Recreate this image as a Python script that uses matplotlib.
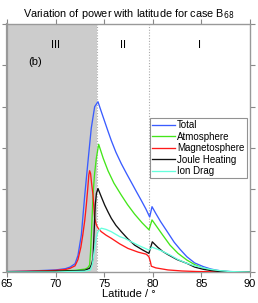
import matplotlib
matplotlib.use("Agg")
import matplotlib.pyplot as plt

plt.rcParams['font.family'] = ['Liberation Sans', 'DejaVu Sans']

# ---- data ----
total_lat = [65, 67, 69, 70, 71, 71.5, 72, 72.3, 72.65, 73.0, 73.33, 73.67, 74.02, 74.36,
             74.7, 75.05, 75.4, 75.73, 76.2, 76.76, 77.3, 77.79, 78.3, 78.82, 79.3, 79.68,
             79.92, 80.3, 80.8, 81.56, 82.2, 82.8, 83.5, 84.3, 85.2, 86, 86.9, 88, 89, 90]
total_val = [0.01, 0.02, 0.04, 0.05, 0.08, 0.12, 0.2, 0.4, 0.9, 1.86, 2.67, 3.48, 4.0, 4.12,
             3.88, 3.64, 3.40, 3.18, 2.90, 2.62, 2.38, 2.17, 1.95, 1.73, 1.52, 1.33,
             1.58, 1.42, 1.22, 0.95, 0.72, 0.55, 0.37, 0.22, 0.13, 0.07, 0.03, 0.01, 0.003, 0.0]

atmos_lat = [65, 70, 72, 73, 73.3, 73.5, 73.6, 73.68, 73.85, 74.0, 74.19, 74.43, 74.9, 75.39,
             76.0, 76.76, 77.4, 78.13, 78.9, 79.61, 79.92, 80.4, 81.0, 81.77, 82.6, 83.5,
             84.3, 85.2, 86, 87, 88, 90]
atmos_val = [0.0, 0.02, 0.04, 0.07, 0.1, 0.17, 0.5, 0.9, 1.86, 2.35, 2.75, 3.09, 2.75, 2.45,
             2.15, 1.86, 1.63, 1.40, 1.19, 1.02, 1.26, 1.1, 0.9, 0.65, 0.45, 0.29,
             0.18, 0.09, 0.05, 0.02, 0.006, 0.0]

magneto_lat = [65, 67, 69, 70, 71, 71.5, 72, 72.3, 72.6, 72.8, 73.0, 73.16, 73.3, 73.42, 73.5,
               73.6, 73.7, 73.85, 74.02, 74.19, 74.4, 74.7, 75.2, 75.73, 76.6, 77.45, 78.5,
               79.33, 79.6, 79.75, 79.85, 80.3, 81.56, 83, 84.5, 86, 88, 90]
magneto_val = [0.01, 0.02, 0.03, 0.04, 0.06, 0.09, 0.15, 0.3, 0.6, 0.9, 1.25, 1.62, 2.0, 2.35, 2.45,
               2.38, 2.15, 1.86, 1.3, 1.14, 1.05, 0.975, 0.89, 0.815, 0.68, 0.57, 0.48,
               0.43, 0.37, 0.25, 0.14, 0.1, 0.05, 0.025, 0.012, 0.005, 0.001, 0.0]

joule_lat = [65, 70, 72, 73, 73.5, 73.7, 73.85, 73.95, 74.08, 74.2, 74.36, 74.7, 75.05, 75.4,
             75.73, 76.2, 76.76, 77.4, 78.13, 78.9, 79.6, 79.95, 80.5, 81.0, 81.56, 82.5,
             83.5, 84.3, 85.2, 86, 87, 88, 90]
joule_val = [0.0, 0.02, 0.03, 0.04, 0.09, 0.18, 0.33, 0.9, 1.62, 1.9, 2.02, 1.82, 1.62, 1.45,
             1.30, 1.13, 0.975, 0.81, 0.65, 0.54, 0.45, 0.73, 0.6, 0.5, 0.42, 0.3,
             0.21, 0.12, 0.065, 0.035, 0.01, 0.003, 0.0]

drag_lat = [65, 70, 73, 73.6, 73.8, 74.0, 74.2, 74.36, 74.7, 75.2, 75.73, 76.6, 77.1, 78.47,
            79.6, 79.92, 80.5, 81.0, 81.77, 82.6, 83.5, 84.3, 85.2, 86, 87, 88, 90]
drag_val = [0.0, 0.0, 0.02, 0.05, 0.2, 0.55, 0.85, 0.975, 1.06, 1.03, 0.975, 0.855, 0.815, 0.65,
            0.53, 0.6, 0.55, 0.5, 0.41, 0.3, 0.21, 0.15, 0.1, 0.06, 0.03, 0.01, 0.0]

region_bounds = [65, 74.25, 79.65, 90]
region_labels = ["III", "II", "I"]
xticks = [65, 70, 75, 80, 85, 90]
yticks = [0, 1, 2, 3, 4, 5, 6]

# ---- figure ----
fig = plt.figure(figsize=(2.58, 3.03), dpi=100)
ax = fig.add_axes([7/258, 31/303, 243/258, 248/303])

ax.axvspan(region_bounds[0], region_bounds[1], color='#cccccc', lw=0, zorder=0)
for b in region_bounds[1:3]:
    ax.axvline(b, color='#aaaaaa', lw=0.8, ls=(0, (1, 1.5)), zorder=1)

lw = 0.95
ax.plot(total_lat, total_val, color='#3a5cff', lw=lw, label='Total', zorder=3)
ax.plot(atmos_lat, atmos_val, color='#44e61a', lw=lw, label='Atmosphere', zorder=3)
ax.plot(magneto_lat, magneto_val, color='#ff1a1a', lw=lw, label='Magnetosphere', zorder=3)
ax.plot(joule_lat, joule_val, color='#111111', lw=lw, label='Joule Heating', zorder=3)
ax.plot(drag_lat, drag_val, color='#66ffdd', lw=lw, label='Ion Drag', zorder=3)

ax.set_xlim(65, 90)
ax.set_ylim(0, 6)
ax.set_xticks(xticks)
ax.set_yticks(yticks)
ax.set_yticklabels([])
ax.tick_params(axis='both', direction='out', length=3.5, width=0.8, color='#888888',
               labelsize=8, pad=1.5, top=True, right=True)
for s in ax.spines.values():
    s.set_color('#999999')
    s.set_linewidth(1.0)
ax.spines['left'].set_linewidth(1.6)

for i, lab in enumerate(region_labels):
    cx = (region_bounds[i] + region_bounds[i + 1]) / 2
    if i == 0:
        cx = 70
    ax.text(cx, 5.48, lab, ha='center', va='center', fontsize=8)
ax.text(67.9, 5.07, '(b)', ha='center', va='center', fontsize=8)

ax.set_xlabel('Latitude / °', fontsize=8, labelpad=0)
ax.set_title('Variation of power with latitude for case B$_{68}$', fontsize=7.8, pad=5)

leg = ax.legend(loc='upper right', bbox_to_anchor=(0.988, 0.622), fontsize=7,
                frameon=True, fancybox=False, borderpad=0.25, labelspacing=0.15,
                handlelength=2.4, handletextpad=0.2, borderaxespad=0)
leg.get_frame().set_edgecolor('#777777')
leg.get_frame().set_linewidth(0.8)

fig.savefig('out.png', dpi=100)
